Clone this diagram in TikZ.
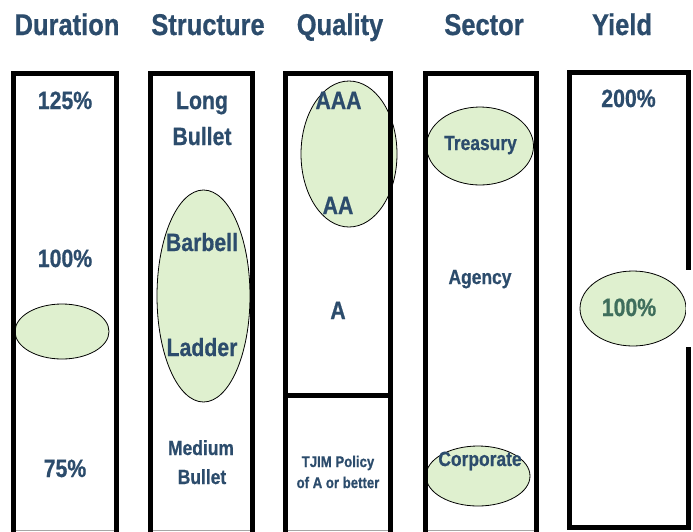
\documentclass[tikz,border=0pt]{standalone}
\usepackage{fontspec}
\setmainfont[FakeStretch=0.85,BoldFeatures={FakeBold=0.7}]{Liberation Sans}
\usetikzlibrary{shapes.geometric}
\definecolor{txtblue}{HTML}{2C4C6C}
\definecolor{txtgreen}{HTML}{3F6E5C}
\definecolor{ellfill}{HTML}{DFF0CF}
\begin{document}
\begin{tikzpicture}[x=1pt,y=-1pt,
  col/.style={line width=5pt, draw=black},
  oval/.style={ellipse, draw=black, line width=0.8pt, fill=ellfill, inner sep=0pt},
  title/.style={font=\bfseries\fontsize{30}{30}\selectfont, text=txtblue, anchor=base, inner sep=0pt},
  big/.style={font=\bfseries\fontsize{25}{25}\selectfont, text=txtblue, anchor=base, inner sep=0pt},
  mid/.style={font=\bfseries\fontsize{20.5}{24}\selectfont, text=txtblue, anchor=base, inner sep=0pt},
  small/.style={font=\bfseries\fontsize{15.5}{18}\selectfont, text=txtblue, anchor=base, inner sep=0pt},
  bottomline/.style={draw=gray!70, line width=0.8pt}
]
\useasboundingbox (0,0) rectangle (693,531);
\fill[white] (0,0) rectangle (693,531);

% ellipses (behind the column borders)
\node[oval, minimum width=94pt, minimum height=55pt] (edur) at (62,331.5) {};
\node[oval, minimum width=93pt, minimum height=212pt] (estr) at (203.5,296) {};
\node[oval, minimum width=96pt, minimum height=146pt] (equal) at (349,154) {};
\node[oval, minimum width=107pt, minimum height=78pt] (etreas) at (480,146) {};
\node[oval, minimum width=104pt, minimum height=60pt] (ecorp) at (478,476) {};
\node[oval, minimum width=106pt, minimum height=75pt] (eyield) at (633,308.5) {};

% columns
\draw[col] (13.5,545) -- (13.5,73.5) -- (116,73.5) -- (116,545);
\draw[col] (150.5,545) -- (150.5,73.5) -- (252.5,73.5) -- (252.5,545);
\draw[col] (285.5,545) -- (285.5,73.5) -- (390.5,73.5) -- (390.5,545);
\draw[col] (285.5,395) -- (390.5,395);
\draw[col] (425.5,545) -- (425.5,73.5) -- (536.5,73.5) -- (536.5,545);
\draw[col] (569,72) rectangle (688.5,527);
\fill[white] (686.2,270) rectangle (693,347);
\draw[bottomline] (16,530.6) -- (113.5,530.6);
\draw[bottomline] (153,530.6) -- (250,530.6);
\draw[bottomline] (288,530.6) -- (388,530.6);
\draw[bottomline] (428,530.6) -- (534,530.6);

% titles
\node[title] (tdur) at (67,35) {Duration};
\node[title] (tstr) at (208,35) {Structure};
\node[title] (tqual) at (340,35) {Quality};
\node[title] (tsec) at (484,35) {Sector};
\node[title] (tyld) at (622,35) {Yield};

% Duration
\node[big] (d125) at (65,109) {125\%};
\node[big] (d100) at (65,267) {100\%};
\node[big] (d75) at (65,477) {75\%};

% Structure
\node[big] (slong) at (202,109) {Long};
\node[big] (slongb) at (202,145) {Bullet};
\node[big] (sbar) at (202,251) {Barbell};
\node[big] (slad) at (202,356) {Ladder};
\node[mid] (smed) at (201,455) {Medium};
\node[mid] (smedb) at (202,484) {Bullet};

% Quality
\node[big] (qaaa) at (338.5,109) {AAA};
\node[big] (qaa) at (338,214) {AA};
\node[big] (qa) at (338,319) {A};
\node[small] (qpol) at (338,467) {TJIM Policy};
\node[small] (qpolb) at (338,488) {of A or better};

% Sector
\node[mid] (str) at (480.5,150) {Treasury};
\node[mid] (sag) at (480,284) {Agency};
\node[mid] (sco) at (480,466) {Corporate};

% Yield
\node[big] (y200) at (628.5,107) {200\%};
\node[big, text=txtgreen] (y100) at (629,316) {100\%};
\end{tikzpicture}
\end{document}
